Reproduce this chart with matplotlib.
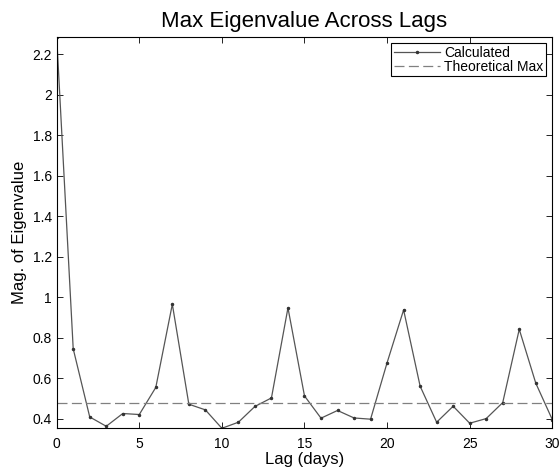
import numpy as np
import matplotlib
matplotlib.use("Agg")
import matplotlib.pyplot as plt

plt.rcParams['font.family'] = ['Liberation Sans', 'DejaVu Sans']

lags = list(range(31))
eig_max = [2.287, 0.745, 0.408, 0.362, 0.425, 0.420, 0.554, 0.965, 0.471, 0.443,
           0.352, 0.382, 0.460, 0.502, 0.947, 0.512, 0.402, 0.440, 0.403, 0.397,
           0.676, 0.937, 0.560, 0.382, 0.461, 0.377, 0.400, 0.479, 0.841, 0.575,
           0.395]
theoretical_max = 0.479

fig = plt.figure(figsize=(5.59, 4.69), dpi=100)
ax = fig.add_axes([0.1014, 0.0868, 0.8866, 0.835])

ax.plot(lags, eig_max, '-', color='#555555', lw=0.9, marker='.', ms=3,
        mfc='#333333', mec='#333333', label='Calculated')
ax.axhline(theoretical_max, color='#808080', lw=0.9, ls=(0, (8, 3.5)), label='Theoretical Max')

ax.set_xlim(0, 30)
ax.set_ylim(min(eig_max), max(eig_max))
ax.set_xticks(np.arange(0, 31, 5))
ax.set_yticks([0.4, 0.6, 0.8, 1, 1.2, 1.4, 1.6, 1.8, 2, 2.2])
ax.set_yticklabels(['0.4', '0.6', '0.8', '1', '1.2', '1.4', '1.6', '1.8', '2', '2.2'])
ax.tick_params(direction='in', top=True, right=True, labelsize=10, length=4, width=0.6)
ax.tick_params(axis='x', pad=6)
for s in ax.spines.values():
    s.set_linewidth(0.8)

ax.set_xlabel('Lag (days)', fontsize=12, labelpad=1)
ax.set_ylabel('Mag. of Eigenvalue', fontsize=12, labelpad=4)
ax.set_title('Max Eigenvalue Across Lags', fontsize=16, pad=7)

leg = ax.legend(loc='upper right', fontsize=10, fancybox=False, framealpha=1,
                edgecolor='black', handlelength=3.3, borderaxespad=0.45,
                borderpad=0.2, labelspacing=0.0, handletextpad=0.3)
leg.get_frame().set_linewidth(0.8)

fig.savefig('out.png', dpi=100)
